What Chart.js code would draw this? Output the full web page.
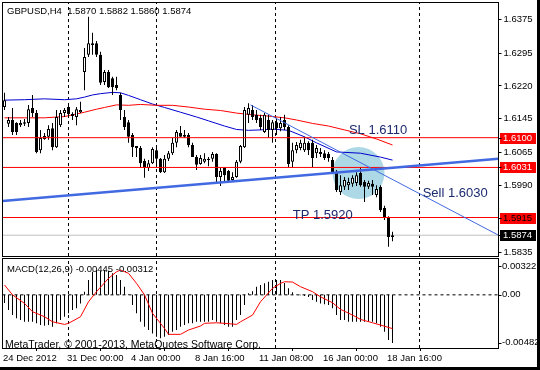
<!DOCTYPE html>
<html>
<head>
<meta charset="utf-8">
<script src="https://cdn.jsdelivr.net/npm/chart.js@4.4.1/dist/chart.umd.min.js"></script>
<style>
  html, body { margin:0; padding:0; background:#fff; }
  #wrap { position:relative; width:540px; height:370px; overflow:hidden; background:#fff; }
  #main { position:absolute; left:0; top:0; }
  #macd { position:absolute; left:0; top:257px; }
  #edgeR { position:absolute; left:537px; top:0; width:3px; height:370px; background:#000; }
  #edgeB { position:absolute; left:0; top:367px; width:540px; height:3px; background:#000; }
</style>
</head>
<body>
<div id="wrap">
  <canvas id="main" width="540" height="257" style="width:540px;height:257px"></canvas>
  <canvas id="macd" width="540" height="113" style="width:540px;height:113px"></canvas>
  <div id="edgeR"></div><div id="edgeB"></div>
</div>
<script>
// ---------------- data ----------------
const symbol = 'GBPUSD';
const timeframe = 'H4';

const opens = [
 1.6171,1.6132,1.6141,1.6134,1.6129,1.6132,1.6134,1.6169,1.6157,1.6071,
 1.6097,1.6102,1.6122,1.6078,1.6129,1.6157,1.6171,1.6155,1.6148,1.6159,
 1.6252,1.6292,1.6315,1.6319,1.6292,1.6229,1.6252,1.6238,1.6222,1.6199,
 1.6148,1.6136,1.6106,1.6081,1.6076,1.6046,1.6030,1.6041,1.6071,1.6051,
 1.6020,1.6051,1.6064,1.6088,1.6111,1.6106,1.6106,1.6083,1.6055,1.6039,
 1.6044,1.6051,1.6051,1.6062,1.6009,1.6030,1.6023,1.6002,1.6009,1.6044,
 1.6078,1.6153,1.6164,1.6153,1.6146,1.6113,1.6141,1.6118,1.6136,1.6122,
 1.6141,1.6125,1.6044,1.6071,1.6076,1.6071,1.6088,1.6088,1.6064,1.6067,
 1.6064,1.6062,1.6048,1.6020,1.5974,1.5986,1.5990,1.5993,1.5995,1.6018,
 1.5997,1.5986,1.5993,1.5967,1.5986,1.5937,1.5916,1.5870];
const highs = [
 1.6204,1.6148,1.6169,1.6136,1.6141,1.6143,1.6176,1.6199,1.6164,1.6118,
 1.6111,1.6129,1.6134,1.6164,1.6164,1.6169,1.6178,1.6159,1.6171,1.6183,
 1.6308,1.6380,1.6343,1.6324,1.6299,1.6257,1.6257,1.6241,1.6241,1.6204,
 1.6164,1.6141,1.6111,1.6081,1.6081,1.6051,1.6048,1.6078,1.6076,1.6053,
 1.6060,1.6069,1.6099,1.6118,1.6127,1.6118,1.6111,1.6088,1.6060,1.6060,
 1.6064,1.6055,1.6067,1.6064,1.6030,1.6032,1.6025,1.6020,1.6048,1.6083,
 1.6171,1.6180,1.6176,1.6164,1.6153,1.6157,1.6153,1.6141,1.6146,1.6148,
 1.6153,1.6129,1.6088,1.6090,1.6095,1.6102,1.6092,1.6095,1.6083,1.6076,
 1.6071,1.6067,1.6055,1.6025,1.6013,1.6009,1.6007,1.6013,1.6020,1.6032,
 1.6002,1.6000,1.6002,1.5990,1.5990,1.5942,1.5918,1.5882];
const lows = [
 1.6164,1.6125,1.6106,1.6106,1.6125,1.6127,1.6125,1.6148,1.6064,1.6064,
 1.6095,1.6095,1.6071,1.6076,1.6125,1.6148,1.6148,1.6141,1.6129,1.6157,
 1.6210,1.6287,1.6292,1.6287,1.6222,1.6222,1.6215,1.6199,1.6210,1.6141,
 1.6118,1.6088,1.6055,1.6055,1.6030,1.6007,1.6023,1.6039,1.6032,1.6018,
 1.6018,1.6046,1.6060,1.6078,1.6102,1.6099,1.6078,1.6055,1.6025,1.6037,
 1.6041,1.6034,1.6044,1.5995,1.5988,1.5997,1.5997,1.6000,1.6007,1.6041,
 1.6076,1.6134,1.6141,1.6134,1.6118,1.6111,1.6099,1.6088,1.6106,1.6115,
 1.6118,1.6032,1.6030,1.6064,1.6071,1.6067,1.6060,1.6032,1.6053,1.6055,
 1.6048,1.6044,1.6018,1.5974,1.5967,1.5979,1.5979,1.5986,1.5988,1.5986,
 1.5951,1.5981,1.5967,1.5962,1.5928,1.5909,1.5847,1.5860];
const closes = [
 1.6187,1.6141,1.6113,1.6113,1.6134,1.6136,1.6166,1.6157,1.6067,1.6099,
 1.6104,1.6120,1.6078,1.6148,1.6157,1.6164,1.6155,1.6150,1.6166,1.6164,
 1.6287,1.6319,1.6319,1.6292,1.6227,1.6252,1.6217,1.6217,1.6215,1.6164,
 1.6125,1.6102,1.6078,1.6076,1.6041,1.6030,1.6041,1.6074,1.6051,1.6020,
 1.6051,1.6064,1.6088,1.6113,1.6102,1.6102,1.6083,1.6055,1.6037,1.6053,
 1.6051,1.6048,1.6062,1.6009,1.6023,1.6013,1.6000,1.6009,1.6044,1.6081,
 1.6164,1.6169,1.6148,1.6141,1.6125,1.6153,1.6118,1.6136,1.6122,1.6134,
 1.6125,1.6039,1.6071,1.6083,1.6088,1.6088,1.6071,1.6053,1.6076,1.6062,
 1.6053,1.6053,1.6020,1.5979,1.5990,1.6002,1.5997,1.6007,1.6013,1.5990,
 1.5986,1.5995,1.5986,1.5981,1.5932,1.5916,1.5870,1.5874];

// moving averages (bar index, price)
const maRedIdx  = [0,5,10,15,18,20,23,25,28,31,34,38,42,46,50,54,58,62,66,70,73,77,81,85,89,93,97];
const maRedVal  = [1.6146,1.6146,1.6146,1.6149,1.6155,1.6159,1.6166,1.6170,1.6176,1.6175,1.6177,1.6175,1.6175,1.6171,1.6166,1.6163,1.6157,1.6153,1.6150,1.6146,1.6141,1.6133,1.6127,1.6118,1.6109,1.6097,1.6083];
const maBlueIdx = [0,5,10,15,18,20,22,24,27,29,31,34,37,40,44,48,51,55,58,61,64,67,71,75,78,83,89,94,97];
const maBlueVal = [1.6187,1.6188,1.6190,1.6188,1.6190,1.6194,1.6199,1.6202,1.6205,1.6204,1.6198,1.6188,1.6178,1.6170,1.6159,1.6148,1.6139,1.6127,1.6119,1.6117,1.6118,1.6120,1.6117,1.6102,1.6088,1.6067,1.6064,1.6055,1.6048];

// MACD (12,26,9)
const macdHist = [
 -0.00076,-0.00140,-0.00187,-0.00217,-0.00233,-0.00249,-0.00249,-0.00249,-0.00263,-0.00279,
 -0.00286,-0.00279,-0.00295,-0.00263,-0.00233,-0.00202,-0.00171,-0.00140,-0.00125,-0.00079,
 0.00029,0.00137,0.00213,0.00229,0.00220,0.00229,0.00220,0.00199,0.00183,0.00137,
 0.00075,0.00005,-0.00094,-0.00171,-0.00249,-0.00295,-0.00325,-0.00356,-0.00387,-0.00402,
 -0.00387,-0.00371,-0.00340,-0.00325,-0.00295,-0.00279,-0.00263,-0.00263,-0.00249,-0.00249,
 -0.00249,-0.00249,-0.00233,-0.00249,-0.00263,-0.00279,-0.00295,-0.00295,-0.00233,-0.00187,
 -0.00094,0.00014,0.00032,0.00075,0.00091,0.00106,0.00121,0.00137,0.00137,0.00137,
 0.00110,0.00060,0.00025,0.00003,-0.00003,-0.00010,-0.00020,-0.00048,-0.00064,-0.00079,
 -0.00088,-0.00094,-0.00125,-0.00187,-0.00233,-0.00233,-0.00249,-0.00249,-0.00249,-0.00249,
 -0.00249,-0.00249,-0.00249,-0.00263,-0.00295,-0.00341,-0.00418,-0.00445];
const signalIdx = [0,2,5,7,10,12,15,16,19,21,23,26,28,29,31,33,35,37,40,41,44,46,49,50,53,55,58,59,62,64,67,69,70,72,74,77,79,82,84,87,89,92,94,97];
const signalVal = [0.00091,0,-0.00079,-0.00156,-0.00202,-0.00249,-0.00273,-0.00263,-0.00202,-0.00064,0.00029,0.00152,0.00213,0.00229,0.00199,0.00106,0,-0.00171,-0.00310,-0.00365,-0.00365,-0.00325,-0.00288,-0.00263,-0.00258,-0.00263,-0.00273,-0.00249,-0.00187,-0.00064,0.00060,0.00106,0.00121,0.00118,0.00075,0.00029,-0.00018,-0.00073,-0.00134,-0.00187,-0.00227,-0.00258,-0.00279,-0.00312];

// axes
const priceTicks = [1.6375,1.6295,1.6220,1.6145,1.6065,1.5990,1.5835];
const timeTickIdx = [0,16,32,48,64,80,96];
const timeLabels = ['24 Dec 2012','31 Dec 00:00','4 Jan 00:00','8 Jan 16:00','11 Jan 08:00','16 Jan 00:00','18 Jan 16:00'];
const separatorIdx = [16,38,67.75,103.75];
const macdLabelVals = [0.00322, 0, -0.00482];

// chart objects
const levelLines = [1.6100, 1.6031, 1.5915];
const bidPrice = 1.5874;
const trendThick = [{x:-0.5, y:1.5953},{x:123.5, y:1.6051}];
const trendThin  = [{x:61.5, y:1.6176},{x:123.5, y:1.5874}];
const zone = [{x:88.5, y:1.6018, r:26}];
const notes = [
  {text:'SL 1.6110',   x:86.1,  y:1.6108},
  {text:'Sell 1.6030', x:104.55, y:1.5962},
  {text:'TP 1.5920',   x:72.05, y:1.5911}
];

// ---------------- rendering ----------------
const FONT = "'Liberation Sans', Arial, sans-serif";
Chart.defaults.font.family = FONT;
Chart.defaults.font.size = 9.5;
Chart.defaults.color = '#000';

const X_MIN = -0.5, X_MAX = 123.5;
const Y_MIN = 1.58258, Y_MAX = 1.64121;
const M_MIN = -0.00491, M_MAX = 0.00331;

const idx = opens.map((_, i) => i);
const bull = idx.map(i => closes[i] >= opens[i]);
const pts = (xs, ys) => xs.map((x, i) => ({x, y: ys[i]}));
const hLine = v => [{x:X_MIN, y:v},{x:X_MAX, y:v}];

const lineDS = (data, color, width, order, dash) => ({
  type:'line', data, borderColor:color, borderWidth:width, pointRadius:0,
  pointHoverRadius:0, tension:0, fill:false, order, borderDash: dash || [], spanGaps:true
});

const mainDatasets = [
  lineDS(trendThin, '#4169e1', 1, 0),
  lineDS(trendThick, '#4169e1', 2.5, 1),
  ...levelLines.map(v => lineDS(hLine(v), '#ff0000', 1, 2)),
  {
    type:'bar', order:3, grouped:false, inflateAmount:0, barThickness:3, maxBarThickness:3,
    data: idx.map(i => ({x:i, y:[opens[i], closes[i]]})),
    backgroundColor: idx.map(i => bull[i] ? '#ffffff' : '#000000'),
    borderColor:'#000', borderWidth:1, borderSkipped:false, minBarLength:1
  },
  {
    type:'bar', order:4, grouped:false, inflateAmount:0, barThickness:1, maxBarThickness:1,
    data: idx.map(i => ({x:i, y:[lows[i], highs[i]]})),
    backgroundColor:'#000', borderWidth:0
  },
  lineDS(pts(maRedIdx, maRedVal), '#ff0000', 1, 5),
  lineDS(pts(maBlueIdx, maBlueVal), '#0000d0', 1, 5),
  lineDS(hLine(bidPrice), '#c0c0c0', 1, 6),
  ...separatorIdx.map(s => lineDS([{x:s, y:Y_MIN},{x:s, y:Y_MAX}], '#000', 1, 7, [3,3])),
  { type:'bubble', order:8, data: zone, backgroundColor:'#add8e6', borderWidth:0, hoverRadius:0 }
];

const fmt4 = v => v.toFixed(4);

const mainDecor = {
  id:'mainDecor',
  afterDatasetsDraw(chart) {
    const {ctx, scales:{x, y}} = chart;
    ctx.save();
    ctx.font = '13px ' + FONT;
    ctx.fillStyle = '#1c2a6e';
    ctx.textAlign = 'left';
    ctx.textBaseline = 'alphabetic';
    notes.forEach(n => ctx.fillText(n.text, x.getPixelForValue(n.x), y.getPixelForValue(n.y)));
    ctx.restore();
  },
  afterDraw(chart) {
    const {ctx, chartArea:a, scales:{y}} = chart;
    ctx.save();
    ctx.strokeStyle = '#000'; ctx.lineWidth = 1;
    ctx.strokeRect(a.left, a.top - 0.5, a.right - a.left, a.bottom - a.top + 1);
    const last = opens.length - 1;
    ctx.font = '9.5px ' + FONT; ctx.fillStyle = '#000';
    ctx.textAlign = 'left'; ctx.textBaseline = 'middle';
    ctx.fillText(`${symbol},${timeframe}  ${fmt4(opens[last])} ${fmt4(highs[last])} ${fmt4(lows[last])} ${fmt4(closes[last])}`, 7, 11);
    const box = (v, bg, fg) => {
      const py = Math.round(y.getPixelForValue(v));
      ctx.fillStyle = bg; ctx.fillRect(500, py - 5, 36, 11);
      ctx.fillStyle = fg; ctx.fillText(fmt4(v), 503, py + 0.5);
      ctx.fillStyle = '#000'; ctx.fillRect(a.right, py, 3, 1);
    };
    box(levelLines[0], '#ff0000', '#ffffff');
    box(levelLines[1], '#ff0000', '#ffffff');
    box(levelLines[2], '#ff0000', '#000000');
    box(bidPrice, '#000000', '#ffffff');
    ctx.restore();
  }
};

new Chart(document.getElementById('main'), {
  type:'bar',
  data:{ datasets: mainDatasets },
  options:{
    responsive:false, animation:false, devicePixelRatio:1, events:[],
    layout:{ autoPadding:false, padding:{ left:2.5, top:3, right:0, bottom:1 } },
    plugins:{ legend:{display:false}, tooltip:{enabled:false} },
    scales:{
      x:{ type:'linear', min:X_MIN, max:X_MAX, offset:false, display:false },
      y:{
        type:'linear', position:'right', min:Y_MIN, max:Y_MAX,
        afterBuildTicks: s => { s.ticks = priceTicks.map(v => ({value:v})); },
        afterFit: s => { s.width = 41.5; s.paddingTop = 0; s.paddingBottom = 0; },
        ticks:{ callback: v => fmt4(v), padding:2, font:{size:9.5}, color:'#000' },
        grid:{ display:true, drawOnChartArea:false, drawTicks:true, tickLength:3, tickColor:'#000' },
        border:{ display:false }
      }
    }
  },
  plugins:[mainDecor]
});

// ---------------- MACD panel ----------------
const macdDecor = {
  id:'macdDecor',
  afterDraw(chart) {
    const {ctx, chartArea:a, scales:{y}} = chart;
    ctx.save();
    ctx.strokeStyle = '#000'; ctx.lineWidth = 1;
    ctx.strokeRect(a.left, a.top - 0.5, a.right - a.left, a.bottom - a.top + 1);
    const last = macdHist.length - 1;
    ctx.fillStyle = '#000'; ctx.textAlign = 'left'; ctx.textBaseline = 'middle';
    ctx.font = '9.5px ' + FONT;
    ctx.fillText(`MACD(12,26,9) ${macdHist[last].toFixed(5)} ${signalVal[signalVal.length-1].toFixed(5)}`, 7, 12);
    const shifts = [6.5, 0, -4.5];
    macdLabelVals.forEach((v, k) => {
      const py = y.getPixelForValue(v) + shifts[k];
      ctx.fillRect(a.right, Math.round(py), 3, 1);
      ctx.fillText(v === 0 ? '0.00' : v.toFixed(5), 502, py);
    });
    ctx.font = '10.5px ' + FONT;
    ctx.fillText('MetaTrader, \u00a9 2001-2013, MetaQuotes Software Corp.', 5, 88);
    ctx.restore();
  }
};

const macdDatasets = [
  lineDS(pts(signalIdx, signalVal), '#ff0000', 1, 1),
  {
    type:'bar', order:2, grouped:false, inflateAmount:0, barThickness:1, maxBarThickness:1,
    data: idx.map(i => ({x:i, y:macdHist[i]})), backgroundColor:'#000', borderWidth:0
  },
  lineDS(hLine(0), '#000', 1, 4, [3,3]),
  ...separatorIdx.map(s => lineDS([{x:s, y:M_MIN},{x:s, y:M_MAX}], '#000', 1, 5, [3,3]))
];

new Chart(document.getElementById('macd'), {
  type:'bar',
  data:{ datasets: macdDatasets },
  options:{
    responsive:false, animation:false, devicePixelRatio:1, events:[],
    layout:{ autoPadding:false, padding:{ left:2.5, top:2, right:0, bottom:0 } },
    plugins:{ legend:{display:false}, tooltip:{enabled:false} },
    scales:{
      x:{
        type:'linear', min:X_MIN, max:X_MAX, offset:false, position:'bottom',
        afterBuildTicks: s => { s.ticks = timeTickIdx.map(v => ({value:v})); },
        afterFit: s => { s.height = 22; s.paddingLeft = 0; s.paddingRight = 0; },
        ticks:{ callback:(v, i) => timeLabels[i], align:'start', autoSkip:false, maxRotation:0, minRotation:0,
                padding:2, labelOffset:-1.5, font:{size:9.5}, color:'#000' },
        grid:{ display:true, drawOnChartArea:false, drawTicks:true, tickLength:3, tickColor:'#000' },
        border:{ display:false }
      },
      y:{
        type:'linear', position:'right', min:M_MIN, max:M_MAX,
        afterFit: s => { s.width = 41.5; s.paddingTop = 0; s.paddingBottom = 0; },
        ticks:{ display:false },
        grid:{ display:false },
        border:{ display:false }
      }
    }
  },
  plugins:[macdDecor]
});
</script>
</body>
</html>
